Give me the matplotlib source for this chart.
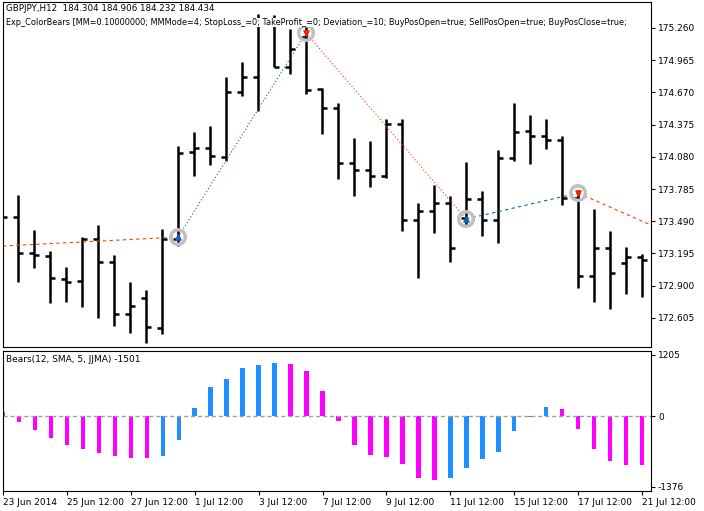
import matplotlib
matplotlib.use('Agg')
import matplotlib.pyplot as plt
import numpy as np

# OHLC, GBPJPY H12
opens = [173.529, 173.529, 173.199, 173.171, 172.961, 172.942, 173.327, 173.116, 172.640, 172.787,
         172.512, 173.327, 174.124, 174.161, 174.078, 174.674, 174.811, 175.333, 174.903, 175.178,
         174.701, 174.527, 174.023, 173.959, 173.904, 174.381, 173.501, 173.584, 173.657, 173.519,
         173.693, 173.501, 174.069, 174.316, 174.271, 174.234, 173.703, 172.988, 173.245, 173.107,
         173.162]
highs = [173.574, 173.730, 173.409, 173.217, 173.071, 173.345, 173.455, 173.180, 172.933, 172.860,
         173.419, 174.179, 174.307, 174.362, 174.811, 174.948, 175.388, 175.379, 175.251, 175.278,
         174.710, 174.573, 174.252, 174.225, 174.426, 174.426, 173.657, 173.822, 173.721, 174.032,
         173.767, 174.142, 174.573, 174.463, 174.426, 174.271, 173.776, 173.602, 173.400, 173.254,
         173.190]
lows = [173.483, 172.933, 173.061, 172.741, 172.750, 172.704, 172.603, 172.530, 172.466, 172.374,
        172.457, 173.263, 173.904, 174.005, 174.042, 174.637, 174.500, 174.903, 174.839, 174.655,
        174.289, 173.877, 173.721, 173.803, 173.886, 173.400, 172.970, 173.382, 173.116, 173.446,
        173.354, 173.290, 174.042, 174.014, 174.152, 173.639, 172.878, 172.750, 172.686, 172.823,
        172.796]
closes = [173.529, 173.199, 173.180, 172.970, 172.933, 173.327, 173.116, 172.640, 172.713, 172.521,
          173.327, 174.115, 174.161, 174.087, 174.674, 174.811, 175.333, 174.903, 175.068, 174.692,
          174.527, 174.023, 173.959, 173.904, 174.381, 173.501, 173.584, 173.657, 173.245, 173.693,
          173.501, 174.069, 174.307, 174.271, 174.234, 173.703, 172.988, 173.245, 173.016, 173.162,
          173.135]

# Bears histogram
bears = [80, -111, -269, -426, -563, -642, -720, -779, -819, -819,
         -779, -465, 157, 570, 727, 943, 1002, 1041, 1022, 891,
         491, -92, -563, -760, -799, -937, -1192, -1231, -1192, -1015,
         -838, -701, -288, -13, 177, 138, -249, -642, -878, -956, -956]
bears_up = [0, 0, 0, 0, 0, 0, 0, 0, 0, 0,
            1, 1, 1, 1, 1, 1, 1, 1, 0, 0,
            0, 0, 0, 0, 0, 0, 0, 0, 1, 1,
            1, 1, 1, 1, 1, 0, 0, 0, 0, 0, 0]

# trades (bar index, price)
trade_x = [0.06, 11, 19, 29, 36, 40.56]
trade_p = [173.263, 173.345, 175.214, 173.510, 173.748, 173.455]
trade_dir = ['sell', 'buy', 'sell', 'buy', 'sell']  # segment colour
signal_x = [11, 19, 29, 36]
signal_p = [173.345, 175.214, 173.510, 173.748]
signal_buy = [True, False, True, False]

price_ticks = [175.260, 174.965, 174.670, 174.375, 174.080, 173.785, 173.490, 173.195, 172.900, 172.605]
ind_ticks = [1205, 0, -1376]
date_pos = [0, 4, 8, 12, 16, 20, 24, 28, 32, 36, 40]
date_labels = ['23 Jun 2014', '25 Jun 12:00', '27 Jun 12:00', '1 Jul 12:00', '3 Jul 12:00',
               '7 Jul 12:00', '9 Jul 12:00', '11 Jul 12:00', '15 Jul 12:00', '17 Jul 12:00',
               '21 Jul 12:00']

W, H = 704, 511
fig = plt.figure(figsize=(W / 100, H / 100), dpi=100)
ax = fig.add_axes([3 / W, (H - 347) / H, 648 / W, 345 / H])
ax2 = fig.add_axes([3 / W, (H - 491) / H, 648 / W, 140 / H])

x = np.arange(len(opens))
ax.vlines(x, lows, highs, color='black', lw=1.8)
ax.hlines(opens, x - 0.33, x, color='black', lw=1.8)
ax.hlines(closes, x, x + 0.33, color='black', lw=1.8)

for i, d in enumerate(trade_dir):
    if d == 'sell':
        col, ls = '#FF4000', (0, (3, 3)) if i != 2 else (0, (1, 2))
    else:
        col, ls = '#1060C0', (0, (1, 2)) if i == 1 else (0, (3, 3))
    ax.plot(trade_x[i:i + 2], trade_p[i:i + 2], color=col, lw=0.8, ls=ls)

ax.scatter(signal_x, signal_p, s=110, facecolors='none', edgecolors='#C0C0C0', lw=2.5, zorder=5)
for sx, sp, b in zip(signal_x, signal_p, signal_buy):
    ax.scatter([sx], [sp], marker='^' if b else 'v', s=14, color='#1060C0' if b else '#FF2000', zorder=6)

ax.set_xlim(0.06, 40.56)
ax.set_ylim(172.338, 175.498)
ax.yaxis.tick_right()
ax.set_yticks(price_ticks)
ax.set_yticklabels([f'{t:.3f}' for t in price_ticks])
ax.set_xticks([])
ax.tick_params(axis='y', length=3, labelsize=6.5, pad=2)
ax.text(0.005, 0.995, 'GBPJPY,H12  184.304 184.906 184.232 184.434', transform=ax.transAxes,
        fontsize=6.3, va='top', ha='left')
ax.text(0.004, 0.955, 'Exp_ColorBears [MM=0.10000000; MMMode=4; StopLoss_=0; TakeProfit_=0; Deviation_=10; '
        'BuyPosOpen=true; SellPosOpen=true; BuyPosClose=true;', transform=ax.transAxes,
        fontsize=5.9, va='top', ha='left', zorder=10,
        bbox=dict(facecolor='white', edgecolor='none', pad=0))

colors = ['#1E90FF' if u else '#FF00FF' for u in bears_up]
ax2.bar(x, bears, width=0.28, color=colors)
ax2.axhline(0, color='#A0A0A0', lw=1, ls=(0, (3, 2)))
ax2.set_xlim(0.06, 40.56)
ax2.set_ylim(-1455, 1277)
ax2.yaxis.tick_right()
ax2.set_yticks(ind_ticks)
ax2.set_yticklabels([str(t) for t in ind_ticks])
ax2.tick_params(axis='y', length=3, labelsize=6.5, pad=2)
ax2.set_xticks(date_pos)
ax2.set_xticklabels(date_labels, ha='left')
ax2.tick_params(axis='x', length=3, labelsize=6.5, pad=2)
ax2.text(0.005, 0.97, 'Bears(12, SMA, 5, JJMA) -1501', transform=ax2.transAxes,
         fontsize=6.5, va='top', ha='left')

for a in (ax, ax2):
    for s in a.spines.values():
        s.set_linewidth(0.8)

fig.savefig('out.png', dpi=100)
